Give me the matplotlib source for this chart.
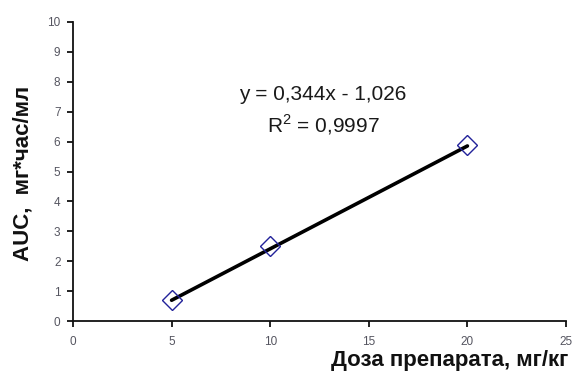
import matplotlib
matplotlib.use("Agg")
import matplotlib.pyplot as plt
import numpy as np

# Data
dose = [5, 10, 20]
auc = [0.70, 2.50, 5.87]
slope = 0.344
intercept = -1.026
eq_text = "y = 0,344x - 1,026"
r2_text = "R$^{2}$ = 0,9997"
x_ticks = [0, 5, 10, 15, 20, 25]
y_ticks = [0, 1, 2, 3, 4, 5, 6, 7, 8, 9, 10]
x_label = "Доза препарата, мг/кг"
y_label = "AUC,  мг*час/мл"

plt.rcParams['font.family'] = ['Liberation Sans', 'DejaVu Sans']
plt.rcParams['mathtext.fontset'] = 'custom'
plt.rcParams['mathtext.rm'] = 'Liberation Sans'

W, H = 573, 372
fig = plt.figure(figsize=(W / 100, H / 100), dpi=100)
ax = fig.add_axes([73 / W, 1 - 321 / H, (566 - 73) / W, (321 - 22) / H])

xl = np.array([min(dose), max(dose)])
ax.plot(xl, slope * xl + intercept, color='black', lw=2.6, solid_capstyle='round', zorder=2)
ax.plot(dose, auc, linestyle='none', marker='D', markersize=10.5,
        markerfacecolor='none', markeredgecolor='#22229a', markeredgewidth=1.0, zorder=3)

ax.set_xlim(0, 25)
ax.set_ylim(0, 10)
ax.set_xticks(x_ticks)
ax.set_yticks(y_ticks)
ax.set_xticklabels([str(t) for t in x_ticks])
ax.set_yticklabels([str(t) for t in y_ticks])

for s in ['top', 'right']:
    ax.spines[s].set_visible(False)
for s in ['left', 'bottom']:
    ax.spines[s].set_linewidth(1.3)
    ax.spines[s].set_color('#111111')

ax.tick_params(axis='both', direction='out', length=4, width=1.3, color='#111111',
               labelsize=8.5, labelcolor='#555560')
ax.tick_params(axis='x', pad=7)
ax.tick_params(axis='y', pad=5)

fig.text(323 / W, 1 - 95 / H, eq_text, fontsize=15, ha='center', va='center', color='#1a1a1a')
fig.text(323 / W, 1 - 125 / H, r2_text, fontsize=15, ha='center', va='center', color='#1a1a1a')

fig.text(568 / W, 1 - 366 / H, x_label, fontsize=16, fontweight='bold',
         ha='right', va='baseline', color='#111111')
fig.text(23.5 / W, 1 - 173 / H, y_label, fontsize=16, fontweight='bold',
         ha='center', va='center', rotation=90, color='#111111')

fig.savefig("out.png", dpi=100)
